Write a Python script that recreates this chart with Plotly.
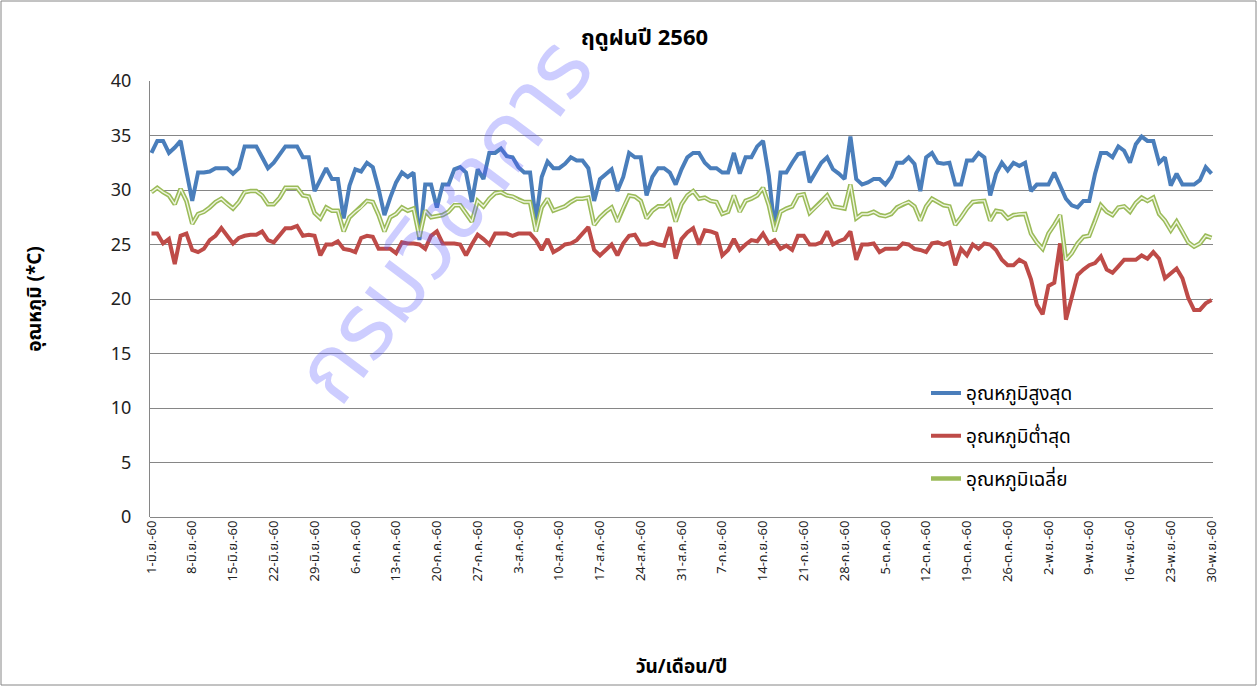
import pandas as pd
import plotly.graph_objects as go

# วันที่ 1 มิ.ย. - 30 พ.ย. 2560 (183 วัน)
dates = pd.date_range("2017-06-01", "2017-11-30", freq="D")

t_max = [
    33.4, 34.5, 34.5, 33.4, 33.9, 34.5, 31.7, 29.0, 31.6, 31.6,
    31.7, 32.0, 32.0, 32.0, 31.5, 32.0, 34.0, 34.0, 34.0, 33.0,
    32.0, 32.5, 33.3, 34.0, 34.0, 34.0, 33.0, 33.0, 29.9, 31.0,
    32.0, 31.0, 31.0, 27.4, 30.4, 31.9, 31.7, 32.5, 32.1, 30.1,
    27.7, 29.3, 30.7, 31.6, 31.2, 31.6, 25.4, 30.5, 30.5, 28.4,
    30.5, 30.5, 31.9, 32.1, 31.6, 28.9, 31.9, 31.0, 33.4, 33.4,
    33.8, 33.1, 33.0, 32.1, 31.6, 31.6, 27.2, 31.2, 32.6, 32.0,
    32.0, 32.4, 33.0, 32.7, 32.7, 32.0, 29.0, 31.0, 31.5, 31.9,
    29.9, 31.2, 33.4, 33.0, 33.0, 29.5, 31.2, 32.0, 32.0, 31.6,
    30.5, 31.9, 33.0, 33.4, 33.4, 32.5, 32.0, 32.0, 31.6, 31.6,
    33.4, 31.5, 33.0, 33.0, 34.0, 34.5, 31.3, 26.3, 31.6, 31.6,
    32.5, 33.3, 33.4, 30.7, 31.6, 32.5, 33.0, 31.9, 31.5, 31.0,
    34.9, 31.0, 30.5, 30.7, 31.0, 31.0, 30.5, 31.2, 32.5, 32.5,
    33.0, 32.4, 29.9, 33.0, 33.4, 32.5, 32.4, 32.5, 30.5, 30.5,
    32.7, 32.7, 33.4, 33.0, 29.5, 31.5, 32.5, 31.8, 32.5, 32.2,
    32.5, 29.9, 30.5, 30.5, 30.5, 31.6, 30.5, 29.2, 28.6, 28.4,
    29.0, 29.0, 31.5, 33.4, 33.4, 33.0, 34.0, 33.6, 32.5, 34.2,
    34.9, 34.5, 34.5, 32.5, 33.0, 30.4, 31.5, 30.5, 30.5, 30.5,
    30.9, 32.1, 31.5,
]

t_min = [
    26.0, 26.0, 25.1, 25.5, 23.2, 25.8, 26.0, 24.5, 24.3, 24.6,
    25.4, 25.8, 26.5, 25.8, 25.1, 25.6, 25.8, 25.9, 25.9, 26.2,
    25.4, 25.2, 25.8, 26.5, 26.5, 26.7, 25.8, 25.9, 25.8, 24.0,
    25.0, 25.0, 25.3, 24.6, 24.5, 24.3, 25.6, 25.8, 25.7, 24.6,
    24.6, 24.6, 24.2, 25.2, 25.1, 25.1, 25.0, 24.6, 25.8, 26.2,
    25.1, 25.1, 25.1, 25.0, 24.0, 25.0, 25.9, 25.5, 25.0, 26.0,
    26.0, 26.0, 25.8, 26.0, 26.0, 26.0, 25.4, 24.5, 25.5, 24.3,
    24.6, 25.0, 25.1, 25.4, 26.0, 26.6, 24.5, 24.0, 24.5, 25.0,
    24.0, 25.1, 25.8, 25.9, 25.0, 25.0, 25.2, 25.0, 24.9, 26.6,
    23.7, 25.5, 26.1, 26.5, 25.0, 26.3, 26.2, 26.0, 24.0, 24.5,
    25.5, 24.5, 25.0, 25.4, 25.3, 26.0, 25.1, 25.4, 24.6, 24.9,
    24.5, 25.8, 25.8, 25.0, 25.0, 25.2, 26.2, 25.0, 25.3, 25.5,
    26.2, 23.6, 25.0, 25.0, 25.1, 24.3, 24.6, 24.6, 24.6, 25.1,
    25.0, 24.6, 24.5, 24.3, 25.1, 25.2, 25.0, 25.2, 23.1, 24.6,
    24.0, 25.0, 24.6, 25.1, 25.0, 24.5, 23.6, 23.1, 23.1, 23.6,
    23.3, 21.8, 19.5, 18.6, 21.2, 21.5, 25.1, 18.1, 20.2, 22.2,
    22.7, 23.1, 23.3, 23.9, 22.7, 22.4, 23.0, 23.6, 23.6, 23.6,
    24.0, 23.7, 24.3, 23.7, 21.9, 22.3, 22.8, 21.9, 20.1, 19.0,
    19.0, 19.6, 19.9,
]

t_avg = [
    29.8, 30.2, 29.8, 29.5, 28.7, 30.1, 29.0, 26.9, 27.8, 28.0,
    28.4, 28.9, 29.2, 28.7, 28.3, 28.9, 29.8, 29.9, 29.9, 29.5,
    28.7, 28.7, 29.3, 30.2, 30.2, 30.2, 29.5, 29.4, 27.9, 27.4,
    28.4, 28.1, 28.1, 26.2, 27.5, 28.0, 28.4, 29.0, 28.9, 27.7,
    26.2, 27.5, 27.8, 28.4, 28.1, 28.3, 25.7, 28.1, 27.5, 27.6,
    27.7, 28.0, 28.6, 28.6, 27.8, 27.1, 29.0, 28.5, 29.2, 29.7,
    29.8, 29.5, 29.4, 29.1, 28.9, 28.9, 26.2, 28.4, 29.2, 28.1,
    28.3, 28.5, 28.9, 29.2, 29.2, 29.3, 26.8, 27.5, 28.0, 28.4,
    27.1, 28.4, 29.5, 29.4, 29.0, 27.4, 28.1, 28.5, 28.5, 29.0,
    27.1, 28.7, 29.5, 29.9, 29.2, 29.3, 29.0, 28.9, 27.8, 28.0,
    29.5, 28.0, 29.0, 29.2, 29.5, 30.2, 28.6, 26.2, 28.0, 28.3,
    28.5, 29.5, 29.6, 27.9, 28.4, 28.9, 29.5, 28.5, 28.4, 28.3,
    30.5, 27.4, 27.8, 27.8, 28.0, 27.7, 27.6, 27.8, 28.4, 28.7,
    28.9, 28.5, 27.2, 28.5, 29.2, 28.9, 28.6, 28.5, 26.8, 27.5,
    28.3, 28.9, 29.0, 29.0, 27.2, 28.1, 28.0, 27.4, 27.7, 27.8,
    27.8, 26.0, 25.2, 24.6, 26.0, 26.8, 27.7, 23.6, 24.2, 25.1,
    25.7, 25.8, 27.1, 28.6, 28.0, 27.7, 28.4, 28.5, 28.0, 28.8,
    29.3, 29.0, 29.3, 27.8, 27.2, 26.3, 27.1, 26.2, 25.2, 24.8,
    25.1, 25.8, 25.6,
]

tick_labels = [
    "1-มิ.ย.-60", "8-มิ.ย.-60", "15-มิ.ย.-60", "22-มิ.ย.-60", "29-มิ.ย.-60",
    "6-ก.ค.-60", "13-ก.ค.-60", "20-ก.ค.-60", "27-ก.ค.-60", "3-ส.ค.-60",
    "10-ส.ค.-60", "17-ส.ค.-60", "24-ส.ค.-60", "31-ส.ค.-60", "7-ก.ย.-60",
    "14-ก.ย.-60", "21-ก.ย.-60", "28-ก.ย.-60", "5-ต.ค.-60", "12-ต.ค.-60",
    "19-ต.ค.-60", "26-ต.ค.-60", "2-พ.ย.-60", "9-พ.ย.-60", "16-พ.ย.-60",
    "23-พ.ย.-60", "30-พ.ย.-60",
]
tick_dates = dates[::7]

FONT = "Noto Sans Thai, Tahoma, Noto Sans, sans-serif"

fig = go.Figure()
fig.add_trace(go.Scatter(
    x=dates, y=t_max, mode="lines", name="อุณหภูมิสูงสุด",
    line=dict(color="#4a7ebb", width=4), legend="legend",
))
fig.add_trace(go.Scatter(
    x=dates, y=t_min, mode="lines", name="อุณหภูมิต่ำสุด",
    line=dict(color="#be4b48", width=4), legend="legend2",
))
fig.add_trace(go.Scatter(
    x=dates, y=t_avg, mode="lines", name="อุณหภูมิเฉลี่ย",
    line=dict(color="#9bbb59", width=4.5), legend="legend3",
))
# เส้นกลางสีอ่อน (เส้นคู่แบบ Excel)
fig.add_trace(go.Scatter(
    x=dates, y=t_avg, mode="lines", showlegend=False, hoverinfo="skip",
    line=dict(color="#eef5e0", width=1.4),
))

legend_common = dict(
    xanchor="left", yanchor="middle", bgcolor="rgba(0,0,0,0)",
    font=dict(size=19, color="#000000", family=FONT),
)

fig.update_layout(
    width=1259, height=686,
    margin=dict(l=150, r=46, t=81, b=169),
    paper_bgcolor="white", plot_bgcolor="white",
    font=dict(family=FONT, color="#000000"),
    title=dict(
        text="<b>ฤดูฝนปี 2560</b>", x=0.512, xanchor="center",
        y=0.945, yanchor="middle", font=dict(size=22, color="#000000"),
    ),
    xaxis=dict(
        automargin=False,
        range=[dates[0] - pd.Timedelta(hours=6), dates[-1] + pd.Timedelta(hours=6)],
        tickvals=tick_dates, ticktext=tick_labels, tickangle=-90,
        tickfont=dict(size=13, color="#222222"),
        showgrid=False, showline=False, ticks="",
        title=dict(text="<b>วัน/เดือน/ปี</b>", font=dict(size=19), standoff=78),
    ),
    yaxis=dict(
        automargin=False,
        range=[0, 40], dtick=5, showgrid=True, gridcolor="#868686", gridwidth=1,
        zeroline=True, zerolinecolor="#868686", zerolinewidth=1,
        showline=True, linecolor="#868686", linewidth=1,
        tickfont=dict(size=18, color="#222222"), ticks="", ticklen=0,
        ticklabelstandoff=14,
        title=dict(text="<b>อุณหภูมิ (*C)</b>", font=dict(size=19), standoff=64),
    ),
    legend=dict(x=0.73, y=0.284, **legend_common),
    legend2=dict(x=0.73, y=0.186, **legend_common),
    legend3=dict(x=0.73, y=0.088, **legend_common),
    showlegend=True,
)

# กรอบแผนภูมิ
fig.add_shape(
    type="rect", xref="paper", yref="paper",
    x0=(1 - 150) / 1063, x1=(1256 - 150) / 1063,
    y0=(517 - 685) / 436, y1=(517 - 1) / 436,
    line=dict(color="#868686", width=1),
)

# ลายน้ำ
fig.add_annotation(
    text="กรมวิชาการ", xref="paper", yref="paper",
    x=(445 - 150) / 1063, y=(517 - 222) / 436,
    xanchor="center", yanchor="middle",
    showarrow=False, textangle=-53,
    font=dict(size=92, color="rgba(90,90,255,0.3)", family=FONT),
)

# ให้กราฟชิดขอบหน้าเว็บ
fig.write_html(
    "out.html",
    config={"displayModeBar": False},
    post_script="document.body.style.margin='0';",
)
